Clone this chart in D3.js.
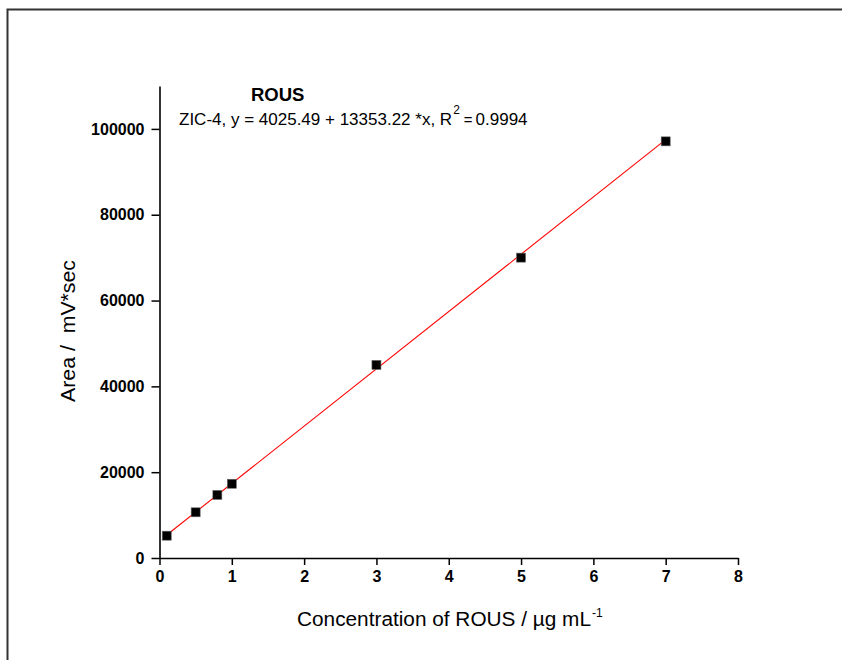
<!DOCTYPE html>
<html>
<head>
<meta charset="utf-8">
<script src="https://cdn.jsdelivr.net/npm/d3@7"></script>
<style>
  html, body { margin: 0; padding: 0; background: #fff; }
  svg { display: block; font-family: "Liberation Sans", Arial, sans-serif; }
  text { white-space: pre; }
</style>
</head>
<body>
<svg id="chart" width="842" height="660"></svg>
<script>
// Calibration data for ROUS (ZIC-4 column)
const concentrations = [0.1, 0.5, 0.8, 1, 3, 5, 7];
const areas = [5200, 10650, 14700, 17300, 45000, 70000, 97100];
const fitIntercept = 4025.49;
const fitSlope = 13353.22;
const rSquared = "0.9994";
const xTicks = [0, 1, 2, 3, 4, 5, 6, 7, 8];
const yTicks = [0, 20000, 40000, 60000, 80000, 100000];

const svg = d3.select("#chart");

// page frame
svg.append("path")
  .attr("d", "M7.5,660 L7.5,9.5 L842,9.5")
  .attr("fill", "none")
  .attr("stroke", "#333")
  .attr("stroke-width", 2);

const x = d3.scaleLinear().domain([0, 8]).range([159.5, 738]);
const y = d3.scaleLinear().domain([0, 110000]).range([558, 86]);

// minor ticks
const gx = svg.append("g").attr("transform", `translate(0,${y(0)})`);
gx.call(d3.axisBottom(x).tickValues(d3.range(0.5, 8, 1)).tickSize(4).tickFormat(""))
  .call(g => g.select(".domain").remove());
gx.call(d3.axisBottom(x).tickValues(xTicks).tickSize(7).tickSizeOuter(0).tickPadding(6).tickFormat(d3.format("d")));

const gy = svg.append("g").attr("transform", `translate(${x(0)},0)`);
gy.call(d3.axisLeft(y).tickValues(d3.range(10000, 110000, 20000)).tickSize(4).tickFormat(""))
  .call(g => g.select(".domain").remove());
gy.call(d3.axisLeft(y).tickValues(yTicks).tickSize(8).tickSizeOuter(0).tickPadding(7).tickFormat(d3.format("d")));

svg.selectAll(".domain").attr("stroke", "#000").attr("stroke-width", 1.6);
svg.selectAll(".tick line").attr("stroke", "#000").attr("stroke-width", 1.5);
svg.selectAll("g").attr("font-size", null).attr("font-family", null);
svg.selectAll(".tick text")
  .attr("fill", "#000")
  .style("font-size", "16px")
  .style("font-weight", "bold");

// linear fit line
const fit = v => fitIntercept + fitSlope * v;
const xMin = d3.min(concentrations), xMax = d3.max(concentrations);
svg.append("line")
  .attr("x1", x(xMin)).attr("y1", y(fit(xMin)))
  .attr("x2", x(xMax)).attr("y2", y(fit(xMax)))
  .attr("stroke", "#ff0000")
  .attr("stroke-width", 1.1);

// data points
const pts = concentrations.map((c, i) => ({ c, a: areas[i] }));
svg.selectAll("rect.pt").data(pts).enter().append("rect")
  .attr("class", "pt")
  .attr("x", d => x(d.c) - 4.5)
  .attr("y", d => y(d.a) - 4.5)
  .attr("width", 9).attr("height", 9)
  .attr("fill", "#000")
  .attr("stroke", "#666")
  .attr("stroke-width", 0.6);

// legend text
svg.append("text")
  .attr("x", 251).attr("y", 101)
  .style("font-size", "18.5px").style("font-weight", "bold")
  .text("ROUS");

const eq = svg.append("text")
  .attr("x", 179).attr("y", 125)
  .style("font-size", "17px");
eq.append("tspan").text(`ZIC-4, y = ${fitIntercept} + ${fitSlope} *x, R`);
eq.append("tspan").attr("dy", -11).attr("dx", 1).style("font-size", "12px").text("2");
eq.append("tspan").attr("dy", 11).attr("dx", 4).style("font-size", "15px").text("=");
eq.append("tspan").attr("dx", 3).text(rSquared);

// axis titles
svg.append("text")
  .attr("transform", `translate(75,331) rotate(-90)`)
  .attr("text-anchor", "middle")
  .attr("textLength", 142)
  .attr("lengthAdjust", "spacingAndGlyphs")
  .style("font-size", "19.5px")
  .text("Area /  mV*sec");

const xt = svg.append("text")
  .attr("x", 297).attr("y", 626)
  .style("font-size", "19.5px");
xt.append("tspan")
  .attr("textLength", 294)
  .attr("lengthAdjust", "spacingAndGlyphs")
  .text("Concentration of ROUS / µg mL");
xt.append("tspan").attr("dy", -9).attr("dx", 1).style("font-size", "12px").text("-1");
</script>
</body>
</html>
